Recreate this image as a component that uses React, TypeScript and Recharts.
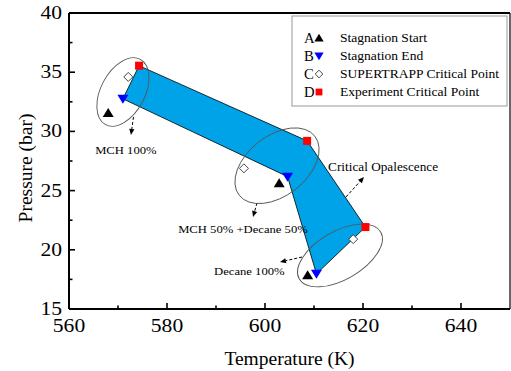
import React from 'react';
import { ScatterChart, Scatter, XAxis, YAxis, ReferenceLine, Label } from 'recharts';

const FONT = "'Liberation Serif', 'Times New Roman', Times, serif";

// ---- data ----
const stagnationStart = [
  { x: 568.0, y: 31.55 },
  { x: 602.9, y: 25.62 },
  { x: 608.7, y: 17.85 },
];
const stagnationEnd = [
  { x: 571.0, y: 32.75 },
  { x: 604.6, y: 26.18 },
  { x: 610.5, y: 17.97 },
];
const supertrappCritical = [
  { x: 572.1, y: 34.6 },
  { x: 595.7, y: 26.88 },
  { x: 618.0, y: 20.9 },
];
const experimentCritical = [
  { x: 574.3, y: 35.55 },
  { x: 608.6, y: 29.2 },
  { x: 620.5, y: 21.92 },
];

// blue band outline: experiment critical points then stagnation end points back
const bandOutline = [
  experimentCritical[0],
  experimentCritical[1],
  experimentCritical[2],
  stagnationEnd[2],
  stagnationEnd[1],
  stagnationEnd[0],
  experimentCritical[0],
];

const ellipseCenters = [
  { x: 571.0, y: 33.33 },
  { x: 602.45, y: 27.1 },
  { x: 615.3, y: 19.52 },
];

const annotationLabels = [
  { x: 571.6, y: 28.43, text: 'MCH 100%' },
  { x: 595.5, y: 21.76, text: 'MCH 50% +Decane 50%' },
  { x: 596.8, y: 18.21, text: 'Decane 100%' },
  { x: 624.1, y: 26.99, text: 'Critical Opalescence' },
];

const arrowSegments = [
  [{ x: 573.16, y: 31.22 }, { x: 572.65, y: 29.7 }],
  [{ x: 598.37, y: 23.95 }, { x: 597.55, y: 22.77 }],
  [{ x: 607.55, y: 19.39 }, { x: 603.06, y: 18.97 }],
  [{ x: 616.53, y: 24.46 }, { x: 620.2, y: 26.15 }],
];

const xMajorTicks = [560, 580, 600, 620, 640];
const xMinorTicks = [570, 590, 610, 630];
const yMajorTicks = [15, 20, 25, 30, 35, 40];
const yMinorTicks = [17.5, 22.5, 27.5, 32.5, 37.5];

const legendItems = [
  { letter: 'A', label: 'Stagnation Start', marker: 'up' },
  { letter: 'B', label: 'Stagnation End', marker: 'down' },
  { letter: 'C', label: 'SUPERTRAPP Critical Point', marker: 'diamond' },
  { letter: 'D', label: 'Experiment Critical Point', marker: 'square' },
];

// ---- styles ----
const BAND_FILL = '#00a2e8';
const ELLIPSE_STYLE = [
  { rx: 37, ry: 22, rot: -62 },
  { rx: 48, ry: 30, rot: -38 },
  { rx: 47, ry: 24, rot: -30 },
];
const LABEL_STYLE = [
  { size: 11, sx: 1.15 },
  { size: 11, sx: 1.15 },
  { size: 11, sx: 1.15 },
  { size: 12.5, sx: 1.06 },
];

function SText(props: any) {
  const { x, y, size, sx = 1, anchor = 'start', children } = props;
  return (
    <text
      transform={`translate(${x},${y}) scale(${sx},1)`}
      textAnchor={anchor}
      style={{ fontFamily: FONT, fontSize: size }}
      fill="#000"
    >
      {children}
    </text>
  );
}

function markerPath(kind: string, cx: number, cy: number, s = 1) {
  if (kind === 'up') {
    return <polygon points={`${cx},${cy - 5 * s} ${cx - 5.5 * s},${cy + 4 * s} ${cx + 5.5 * s},${cy + 4 * s}`} fill="#000" />;
  }
  if (kind === 'down') {
    return <polygon points={`${cx - 5.5 * s},${cy - 4 * s} ${cx + 5.5 * s},${cy - 4 * s} ${cx},${cy + 5 * s}`} fill="#0000ff" />;
  }
  if (kind === 'diamond') {
    return (
      <polygon
        points={`${cx},${cy - 4.5 * s} ${cx + 4.5 * s},${cy} ${cx},${cy + 4.5 * s} ${cx - 4.5 * s},${cy}`}
        fill="#fff"
        stroke="#333"
        strokeWidth={0.9}
      />
    );
  }
  return <rect x={cx - 4 * s} y={cy - 4 * s} width={8 * s} height={8 * s} fill="#ff0000" />;
}

const makeShape = (kind: string) => (p: any) => markerPath(kind, p.cx, p.cy);

const EllipseShape = (p: any) => {
  let i = ellipseCenters.indexOf(p.payload);
  if (i < 0) i = ellipseCenters.findIndex((e) => e.x === p.payload?.x && e.y === p.payload?.y);
  const s = ELLIPSE_STYLE[Math.max(0, i)];
  return (
    <ellipse
      cx={p.cx}
      cy={p.cy}
      rx={s.rx}
      ry={s.ry}
      transform={`rotate(${s.rot},${p.cx},${p.cy})`}
      fill="none"
      stroke="#555"
      strokeWidth={0.9}
    />
  );
};

const LabelShape = (p: any) => {
  let i = annotationLabels.indexOf(p.payload);
  if (i < 0) i = annotationLabels.findIndex((e) => e.text === p.payload?.text);
  const st = LABEL_STYLE[Math.max(0, i)];
  return (
    <SText x={p.cx} y={p.cy + 4} size={st.size} sx={st.sx} anchor="middle">
      {p.payload?.text}
    </SText>
  );
};

const ArrowShape = (p: any) => {
  const { x1, y1, x2, y2 } = p;
  const dx = x2 - x1;
  const dy = y2 - y1;
  const L = Math.hypot(dx, dy) || 1;
  const ux = dx / L;
  const uy = dy / L;
  const hl = 6;
  const hw = 2.6;
  const bx = x2 - ux * hl;
  const by = y2 - uy * hl;
  return (
    <g>
      <line x1={x1} y1={y1} x2={bx} y2={by} stroke="#000" strokeWidth={1} strokeDasharray="3 2" />
      <polygon points={`${x2},${y2} ${bx - uy * hw},${by + ux * hw} ${bx + uy * hw},${by - ux * hw}`} fill="#000" />
    </g>
  );
};

const XTick = (p: any) => {
  const { x, y, payload } = p;
  const v = payload.value;
  const major = xMajorTicks.includes(v);
  return (
    <g>
      <line x1={x} x2={x} y1={y} y2={y - (major ? 6 : 3.5)} stroke="#000" strokeWidth={1.6} />
      {major && (
        <SText x={x} y={y + 22.5} size={18} sx={1.2} anchor="middle">
          {v}
        </SText>
      )}
    </g>
  );
};

const YTick = (p: any) => {
  const { x, y, payload } = p;
  const v = payload.value;
  const major = yMajorTicks.includes(v);
  return (
    <g>
      <line x1={x} x2={x + (major ? 6 : 3.5)} y1={y} y2={y} stroke="#000" strokeWidth={1.6} />
      {major && (
        <SText x={x - 7} y={y + 6} size={18} sx={1.2} anchor="end">
          {v}
        </SText>
      )}
    </g>
  );
};

function LegendBox() {
  return (
    <svg
      width={216}
      height={92}
      style={{ position: 'absolute', left: 291, top: 15, overflow: 'visible' }}
    >
      <rect x={1} y={1} width={215} height={90} fill="#fff" stroke="#999" strokeWidth={1} />
      {legendItems.map((it, i) => {
        const cy = 23 + i * 18;
        return (
          <g key={it.letter}>
            <SText x={13} y={cy + 5} size={14} sx={1.05}>
              {it.letter}
            </SText>
            {markerPath(it.marker, 28, cy, 0.85)}
            <SText x={49} y={cy + 4} size={12} sx={1.13}>
              {it.label}
            </SText>
          </g>
        );
      })}
    </svg>
  );
}

export default function App() {
  return (
    <div style={{ position: 'absolute', left: 0, top: 0, width: 511, height: 371, background: '#fff', fontFamily: FONT }}>
      <ScatterChart width={511} height={371} margin={{ top: 13, right: 1, bottom: 0, left: 0 }}>
        <XAxis
          type="number"
          dataKey="x"
          domain={[560, 650]}
          ticks={[...xMajorTicks, ...xMinorTicks].sort((a, b) => a - b)}
          interval={0}
          tickLine={false}
          tickSize={0}
          tickMargin={0}
          tick={<XTick />}
          axisLine={{ stroke: '#000', strokeWidth: 2 }}
          height={62}
          allowDataOverflow
        >
          <Label
            content={(lp: any) => {
              const vb = lp.viewBox || { x: 69, y: 309, width: 441, height: 62 };
              return (
                <SText x={vb.x + vb.width / 2} y={365} size={19.5} anchor="middle">
                  Temperature (K)
                </SText>
              );
            }}
          />
        </XAxis>
        <YAxis
          type="number"
          dataKey="y"
          domain={[15, 40]}
          ticks={[...yMajorTicks, ...yMinorTicks].sort((a, b) => a - b)}
          interval={0}
          tickLine={false}
          tickSize={0}
          tickMargin={0}
          tick={<YTick />}
          axisLine={{ stroke: '#000', strokeWidth: 2 }}
          width={69}
          allowDataOverflow
        >
          <Label
            content={() => (
              <text
                transform="translate(32,168) rotate(-90)"
                textAnchor="middle"
                style={{ fontFamily: FONT, fontSize: 19.5 }}
                fill="#000"
              >
                Pressure (bar)
              </text>
            )}
          />
        </YAxis>
        <ReferenceLine y={40} stroke="#000" strokeWidth={2} />
        <ReferenceLine x={650} stroke="#000" strokeWidth={1.2} />

        <Scatter
          data={bandOutline}
          isAnimationActive={false}
          shape={() => <g />}
          line={{ fill: BAND_FILL, stroke: '#000', strokeWidth: 0.8 }}
          lineType="joint"
          fill={BAND_FILL}
        />
        <Scatter data={ellipseCenters} isAnimationActive={false} shape={EllipseShape} />
        <Scatter data={stagnationStart} isAnimationActive={false} shape={makeShape('up')} />
        <Scatter data={supertrappCritical} isAnimationActive={false} shape={makeShape('diamond')} />
        <Scatter data={experimentCritical} isAnimationActive={false} shape={makeShape('square')} />
        <Scatter data={stagnationEnd} isAnimationActive={false} shape={makeShape('down')} />
        <Scatter data={annotationLabels} isAnimationActive={false} shape={LabelShape} />
        {arrowSegments.map((seg, i) => (
          <ReferenceLine key={i} segment={seg} shape={ArrowShape} />
        ))}
      </ScatterChart>
      <LegendBox />
    </div>
  );
}
